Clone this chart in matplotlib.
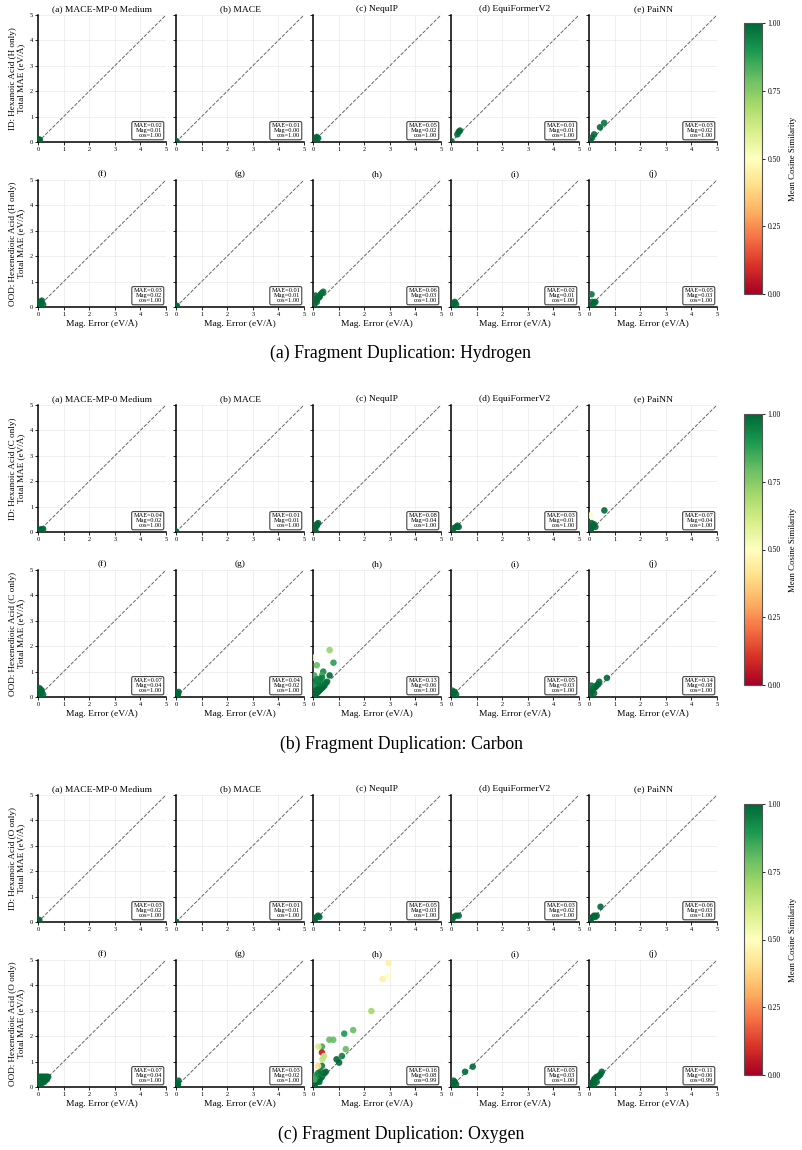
import numpy as np
import matplotlib
matplotlib.use("Agg")
import matplotlib.pyplot as plt
from matplotlib import cm, colors

plt.rcParams['font.family'] = ['Liberation Serif', 'DejaVu Serif']

MODELS = ["MACE-MP-0 Medium", "MACE", "NequIP", "EquiFormerV2", "PaiNN"]
ROW1_LETTERS = ["(a)", "(b)", "(c)", "(d)", "(e)"]
ROW2_LETTERS = ["(f)", "(g)", "(h)", "(i)", "(j)"]
ELEMENTS = ["H", "C", "O"]
ELEMENT_NAMES = ["Hydrogen", "Carbon", "Oxygen"]
GROUP_LETTERS = ["(a)", "(b)", "(c)"]

# ---------------- Hydrogen ----------------
H_ID_X = [[0.03, 0.05, 0.07], [0.01, 0.02], [0.05, 0.1, 0.15, 0.2, 0.12],
          [0.02, 0.25, 0.3, 0.35], [0.05, 0.12, 0.2, 0.43, 0.59]]
H_ID_Y = [[0.05, 0.1, 0.08], [0.02, 0.03], [0.1, 0.15, 0.2, 0.15, 0.05],
          [0.03, 0.3, 0.4, 0.45], [0.05, 0.17, 0.3, 0.58, 0.75]]
H_ID_C = [[1, 1, 1], [1, 1], [1, 1, 1, 1, 1], [1, 1, 1, 1], [1, 1, 1, 1, 0.97]]
H_OOD_X = [[0.05, 0.1, 0.15, 0.12, 0.2], [0.02, 0.03],
           [0.05, 0.1, 0.15, 0.2, 0.25, 0.3, 0.35, 0.4, 0.1, 0.05],
           [0.05, 0.1, 0.15, 0.2], [0.05, 0.1, 0.12, 0.25, 0.2]]
H_OOD_Y = [[0.1, 0.2, 0.25, 0.15, 0.1], [0.03, 0.05],
           [0.1, 0.3, 0.2, 0.35, 0.4, 0.5, 0.55, 0.6, 0.45, 0.3],
           [0.1, 0.15, 0.2, 0.1], [0.05, 0.5, 0.2, 0.2, 0.15]]
H_OOD_C = [[1, 1, 1, 1, 1], [1, 1], [1, 1, 1, 1, 1, 1, 1, 0.98, 1, 1],
           [1, 1, 1, 1], [1, 0.97, 1, 1, 1]]
H_STATS = [[(0.02, 0.01, 1.00), (0.01, 0.00, 1.00), (0.05, 0.02, 1.00), (0.01, 0.01, 1.00), (0.03, 0.02, 1.00)],
           [(0.03, 0.02, 1.00), (0.01, 0.01, 1.00), (0.06, 0.03, 1.00), (0.02, 0.01, 1.00), (0.05, 0.03, 1.00)]]

# ---------------- Carbon ----------------
C_ID_X = [[0.05, 0.1, 0.15, 0.2], [0.01], [0.05, 0.1, 0.15, 0.2, 0.1, 0.15],
          [0.05, 0.1, 0.2, 0.3, 0.25], [0.05, 0.1, 0.15, 0.2, 0.25, 0.6, 0.1, 0.04]]
C_ID_Y = [[0.08, 0.1, 0.1, 0.12], [0.02], [0.1, 0.2, 0.3, 0.35, 0.05, 0.25],
          [0.05, 0.15, 0.2, 0.2, 0.25], [0.05, 0.15, 0.25, 0.3, 0.2, 0.85, 0.35, 0.65]]
C_ID_C = [[1, 1, 1, 1], [1], [1, 1, 1, 1, 1, 1], [1, 1, 1, 1, 1],
          [1, 1, 1, 1, 1, 1.0, 1, 0.5]]
C_OOD_X = [[0.05, 0.1, 0.15, 0.2, 0.05, 0.1], [0.02, 0.05, 0.1, 0.08],
           [0.65, 0.8, 0.15, 0.0, 0.4, 0.65, 0.35, 0.05, 0.15, 0.05, 0.1, 0.15, 0.2, 0.25,
            0.3, 0.35, 0.4, 0.45, 0.5, 0.55, 0.1, 0.2, 0.3, 0.05, 0.15, 0.25, 0.35, 0.1, 0.2],
           [0.05, 0.1, 0.15, 0.2, 0.05],
           [0.05, 0.1, 0.15, 0.2, 0.25, 0.3, 0.35, 0.4, 0.7, 0.1, 0.2]]
C_OOD_Y = [[0.05, 0.15, 0.25, 0.1, 0.35, 0.3], [0.05, 0.15, 0.2, 0.1],
           [1.85, 1.35, 1.25, 1.55, 1.0, 0.85, 0.85, 0.85, 0.7, 0.05, 0.1, 0.15, 0.2, 0.25,
            0.3, 0.35, 0.4, 0.45, 0.55, 0.6, 0.4, 0.5, 0.55, 0.5, 0.6, 0.7, 0.75, 0.25, 0.3],
           [0.05, 0.15, 0.2, 0.1, 0.25],
           [0.1, 0.2, 0.3, 0.35, 0.4, 0.45, 0.5, 0.6, 0.75, 0.45, 0.15]]
C_OOD_C = [[1, 1, 1, 1, 1, 1], [1, 1, 1, 1],
           [0.72, 0.88, 0.8, 0.5, 0.93, 1.0, 0.85, 0.85, 0.93, 1, 1, 1, 1, 1,
            1, 1, 1, 1, 0.98, 0.98, 0.95, 0.96, 0.97, 0.9, 0.95, 0.93, 0.95, 1, 1],
           [1, 1, 1, 1, 1],
           [1, 1, 1, 1, 1, 1, 1, 1, 1, 0.98, 1]]
C_STATS = [[(0.04, 0.02, 1.00), (0.01, 0.01, 1.00), (0.08, 0.04, 1.00), (0.03, 0.01, 1.00), (0.07, 0.04, 1.00)],
           [(0.07, 0.04, 1.00), (0.04, 0.02, 1.00), (0.13, 0.06, 1.00), (0.05, 0.03, 1.00), (0.14, 0.08, 1.00)]]

# ---------------- Oxygen ----------------
O_ID_X = [[0.03, 0.05], [0.01], [0.05, 0.1, 0.15, 0.2, 0.25],
          [0.05, 0.1, 0.2, 0.3], [0.05, 0.1, 0.15, 0.2, 0.25, 0.45, 0.3]]
O_ID_Y = [[0.05, 0.08], [0.01], [0.05, 0.15, 0.2, 0.25, 0.2],
          [0.1, 0.2, 0.25, 0.25], [0.05, 0.15, 0.2, 0.25, 0.2, 0.6, 0.25]]
O_ID_C = [[1, 1], [1], [1, 1, 1, 1, 1], [1, 1, 1, 1], [1, 1, 1, 1, 1, 1, 1]]
O_OOD_X = [[0.05, 0.1, 0.15, 0.2, 0.25, 0.3, 0.35, 0.4, 0.1, 0.2, 0.3, 0.05, 0.15, 0.25, 0.35],
           [0.02, 0.05, 0.1, 0.08],
           [2.95, 2.95, 2.72, 2.28, 1.57, 1.22, 0.79, 0.64, 0.35, 0.21, 0.35, 1.28, 1.13, 0.92,
            1.02, 0.43, 0.37, 0.35, 0.2, 0.1, 0.05, 0.1, 0.15, 0.2, 0.25, 0.3, 0.35, 0.4, 0.45,
            0.5, 0.1, 0.2, 0.3, 0.15, 0.25, 0.05],
           [0.05, 0.1, 0.15, 0.2, 0.55, 0.85, 0.1],
           [0.05, 0.1, 0.15, 0.2, 0.25, 0.3, 0.35, 0.4, 0.45, 0.5, 0.2, 0.3]]
O_OOD_Y = [[0.4, 0.4, 0.4, 0.4, 0.4, 0.4, 0.4, 0.4, 0.2, 0.25, 0.3, 0.1, 0.15, 0.2, 0.3],
           [0.05, 0.15, 0.25, 0.1],
           [4.88, 4.38, 4.25, 2.99, 2.24, 2.1, 1.86, 1.86, 1.59, 1.59, 1.36, 1.49, 1.22, 1.09,
            0.96, 1.22, 1.09, 0.83, 0.83, 0.43, 0.05, 0.15, 0.2, 0.25, 0.3, 0.35, 0.4, 0.5, 0.55,
            0.6, 0.45, 0.55, 0.6, 0.3, 0.2, 0.3],
           [0.05, 0.15, 0.2, 0.1, 0.6, 0.8, 0.25],
           [0.05, 0.15, 0.2, 0.3, 0.35, 0.4, 0.4, 0.45, 0.5, 0.6, 0.1, 0.2]]
O_OOD_C = [[1] * 15, [1, 1, 1, 1],
           [0.45, 0.5, 0.45, 0.7, 0.8, 0.9, 0.8, 0.8, 0.85, 0.6, 0.05, 0.8, 0.95, 1.0,
            1.0, 0.65, 0.65, 0.95, 0.4, 0.55, 1, 1, 1, 0.95, 0.97, 0.95, 1, 0.93, 1,
            1, 0.9, 0.93, 0.97, 0.92, 1, 0.85],
           [1, 1, 1, 1, 1, 1, 1],
           [1, 1, 1, 1, 1, 1, 1, 1, 1, 1, 1, 1]]
O_STATS = [[(0.03, 0.02, 1.00), (0.01, 0.01, 1.00), (0.05, 0.03, 1.00), (0.03, 0.02, 1.00), (0.06, 0.03, 1.00)],
           [(0.07, 0.04, 1.00), (0.03, 0.02, 1.00), (0.16, 0.08, 0.99), (0.05, 0.03, 1.00), (0.11, 0.06, 0.99)]]

GROUPS = [
    ([H_ID_X, H_OOD_X], [H_ID_Y, H_OOD_Y], [H_ID_C, H_OOD_C], H_STATS),
    ([C_ID_X, C_OOD_X], [C_ID_Y, C_OOD_Y], [C_ID_C, C_OOD_C], C_STATS),
    ([O_ID_X, O_OOD_X], [O_ID_Y, O_OOD_Y], [O_ID_C, O_OOD_C], O_STATS),
]

W, H = 802, 1150
fig = plt.figure(figsize=(W / 100, H / 100), dpi=100)
cmap = plt.get_cmap("RdYlGn")
norm = colors.Normalize(vmin=0, vmax=1)

col_left = [38, 176, 313, 451, 589]
ax_w = 128
ax_h = 127
group_top = [15, 405, 795]
row_offset = 165
cbar_top = [23, 414, 804]
cbar_len = 271
caption_y = [353, 744, 1134]


def fx(px):
    return px / W


def fy(py):
    return 1 - py / H


for g, (Xs, Ys, Cs, stats) in enumerate(GROUPS):
    el = ELEMENTS[g]
    for r in range(2):
        top = group_top[g] + r * row_offset
        for c in range(5):
            ax = fig.add_axes([fx(col_left[c]), fy(top + ax_h), ax_w / W, ax_h / H])
            ax.set_xlim(0, 5)
            ax.set_ylim(0, 5)
            ax.grid(True, color="#dddddd", linewidth=0.5, alpha=0.6)
            ax.set_axisbelow(True)
            ax.plot([0, 5], [0, 5], linestyle="--", color="#666666", linewidth=0.7, zorder=1)
            ax.scatter(Xs[r][c], Ys[r][c], c=Cs[r][c], cmap=cmap, norm=norm,
                       s=22, alpha=0.9, edgecolors="none", zorder=3)
            for sp in ["top", "right"]:
                ax.spines[sp].set_visible(False)
            for sp in ["left", "bottom"]:
                ax.spines[sp].set_linewidth(1.1)
                ax.spines[sp].set_color("black")
            ax.set_xticks(range(6))
            ax.set_yticks(range(6))
            ax.tick_params(labelsize=4.6, length=2, width=0.6, pad=1.5)
            if c != 0:
                ax.set_yticklabels([])
            letters = ROW1_LETTERS if r == 0 else ROW2_LETTERS
            title = f"{letters[c]} {MODELS[c]}" if r == 0 else letters[c]
            ax.set_title(title, fontsize=6.8, pad=3)
            if c == 0:
                if r == 0:
                    lab = f"ID: Hexanoic Acid ({el} only)\nTotal MAE (eV/Å)"
                else:
                    lab = f"OOD: Hexenedioic Acid ({el} only)\nTotal MAE (eV/Å)"
                ax.set_ylabel(lab, fontsize=6.6, labelpad=3, linespacing=1.1)
            if r == 1:
                ax.set_xlabel("Mag. Error (eV/Å)", fontsize=6.8, labelpad=2)
            mae, mag, cs = stats[r][c]
            ax.text(0.97, 0.03, f"MAE={mae:.2f}\nMag={mag:.2f}\ncos={cs:.2f}",
                    transform=ax.transAxes, ha="right", va="bottom", fontsize=4.6,
                    multialignment="right", linespacing=1.0, zorder=5,
                    bbox=dict(boxstyle="round,pad=0.25", facecolor="white",
                              edgecolor="#444444", linewidth=0.8))
    # colorbar
    cax = fig.add_axes([fx(744), fy(cbar_top[g] + cbar_len), 18 / W, cbar_len / H])
    sm = cm.ScalarMappable(norm=norm, cmap=cmap)
    cb = fig.colorbar(sm, cax=cax, ticks=[0, 0.25, 0.5, 0.75, 1.0], format="%.2f")
    cb.outline.set_edgecolor("#555555")
    cb.outline.set_linewidth(0.8)
    cb.ax.tick_params(labelsize=5.5, length=2, width=0.6, pad=2)
    cb.set_label("Mean Cosine Similarity", fontsize=6.3, labelpad=6)
    fig.text(0.5, fy(caption_y[g]), f"{GROUP_LETTERS[g]} Fragment Duplication: {ELEMENT_NAMES[g]}",
             ha="center", va="center", fontsize=12.8)

fig.savefig("out.png", dpi=100)
